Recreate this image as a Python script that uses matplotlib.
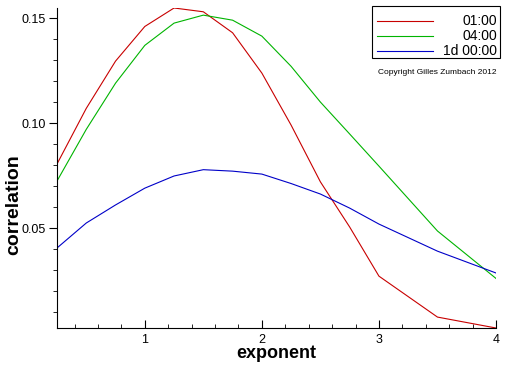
import matplotlib
matplotlib.use("Agg")
import matplotlib.pyplot as plt
from matplotlib.ticker import MultipleLocator, FormatStrFormatter
from matplotlib.lines import Line2D
from matplotlib.patches import Rectangle

plt.rcParams['font.family'] = ['Liberation Sans', 'DejaVu Sans']

# exponent values
exponent = [0.25, 0.5, 0.75, 1.0, 1.25, 1.5, 1.75, 2.0, 2.25, 2.5, 2.75, 3.0, 3.5, 4.0]

# correlation per time horizon
corr_01h = [0.0805, 0.107, 0.1295, 0.146, 0.1548, 0.153, 0.143, 0.1238, 0.099, 0.072,
            0.0505, 0.0271, 0.0076, 0.0024]
corr_04h = [0.0724, 0.097, 0.119, 0.137, 0.1476, 0.1514, 0.149, 0.1414, 0.127, 0.110,
            0.0948, 0.0795, 0.0486, 0.026]
corr_1d = [0.0405, 0.0524, 0.061, 0.069, 0.0748, 0.0778, 0.0771, 0.0757, 0.0712, 0.0662,
           0.0595, 0.0519, 0.039, 0.0286]

labels = ["01:00", "04:00", "1d 00:00"]
colors = ["#c80000", "#00b400", "#0000c8"]
series = [corr_01h, corr_04h, corr_1d]

W, H = 512, 366
fig = plt.figure(figsize=(W / 100, H / 100), dpi=100)
ax = fig.add_axes([57 / W, 1 - 328 / H, (496 - 57) / W, (328 - 8) / H])

for ys, c in zip(series, colors):
    ax.plot(exponent, ys, color=c, lw=0.8)

allv = corr_01h + corr_04h + corr_1d
ax.set_xlim(exponent[0], exponent[-1])
ax.set_ylim(min(allv), max(allv))

for s in ["top", "right"]:
    ax.spines[s].set_visible(False)

ax.xaxis.set_major_locator(MultipleLocator(1))
ax.xaxis.set_minor_locator(MultipleLocator(0.2))
ax.yaxis.set_major_locator(MultipleLocator(0.05))
ax.yaxis.set_minor_locator(MultipleLocator(0.01))
ax.yaxis.set_major_formatter(FormatStrFormatter("%.2f"))
ax.xaxis.set_major_formatter(FormatStrFormatter("%d"))

ax.tick_params(axis="x", which="major", direction="in", length=6, labelsize=9, pad=4)
ax.tick_params(axis="x", which="minor", direction="in", length=3)
ax.tick_params(axis="y", which="major", direction="out", length=6, labelsize=9, pad=2)
ax.tick_params(axis="y", which="minor", direction="out", length=3)

# axis titles placed by hand so they stay inside the small canvas
fig.text(276 / W, 1 - 353 / H, "exponent", ha="center", va="center",
         fontsize=13, fontweight="bold")
fig.text(14 / W, 1 - 205 / H, "correlation", ha="center", va="center",
         rotation=90, fontsize=14, fontweight="bold")

# legend drawn in figure pixels
fig.patches.append(Rectangle((372 / W, 1 - 58 / H), 128 / W, 52 / H,
                             transform=fig.transFigure, fill=False,
                             edgecolor="black", lw=0.8))
for i, (lab, c) in enumerate(zip(labels, colors)):
    yy = 1 - (21 + 15 * i) / H
    fig.lines.append(Line2D([377 / W, 433 / W], [yy, yy], transform=fig.transFigure,
                            color=c, lw=0.8))
    fig.text(497 / W, yy, lab, ha="right", va="center", fontsize=10)

fig.text(378 / W, 1 - 72 / H, "Copyright Gilles Zumbach 2012", fontsize=6, va="center")

fig.savefig("out.png", dpi=100)
